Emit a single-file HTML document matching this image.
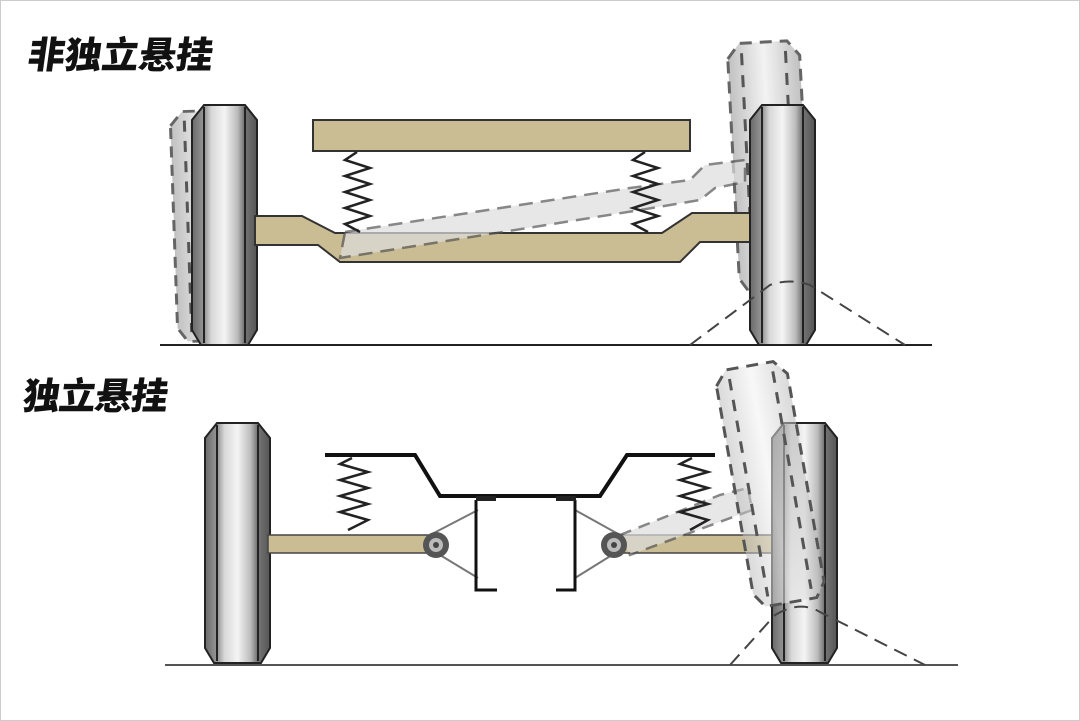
<!DOCTYPE html>
<html><head><meta charset="utf-8"><style>
html,body{margin:0;padding:0;background:#fff;}
svg{display:block;}
.t{font-family:"Liberation Sans","Noto Sans CJK SC",sans-serif;font-weight:900;font-size:37px;fill:#111;}
</style></head><body>
<svg width="1080" height="721" viewBox="0 0 1080 721" xmlns="http://www.w3.org/2000/svg">
<defs>
<linearGradient id="wg" x1="0" x2="1" y1="0" y2="0">
<stop offset="0" stop-color="#6a6a6a"/><stop offset="0.2" stop-color="#9a9a9a"/><stop offset="0.3" stop-color="#d8d8d8"/><stop offset="0.5" stop-color="#f4f4f4"/><stop offset="0.7" stop-color="#bcbcbc"/><stop offset="0.8" stop-color="#777"/><stop offset="1" stop-color="#555"/>
</linearGradient>
<linearGradient id="gg" x1="0" x2="1" y1="0" y2="0">
<stop offset="0" stop-color="#bbb"/><stop offset="0.5" stop-color="#f2f2f2"/><stop offset="1" stop-color="#bbb"/>
</linearGradient>
<g id="wheel">
<path d="M0,15 L12,0 L53,0 L65,15 L65,225 L56,240 L9,240 L0,225 Z" fill="url(#wg)" stroke="#222" stroke-width="2"/>
<line x1="12" y1="2" x2="12" y2="238" stroke="#222" stroke-width="2"/>
<line x1="53" y1="2" x2="53" y2="238" stroke="#222" stroke-width="2"/>
</g>
<g id="ghost">
<path d="M0,15 L12,0 L60,0 L72,15 L72,235 L62,250 L10,250 L0,235 Z" fill="url(#gg)" stroke="#555" stroke-width="3" stroke-dasharray="12,8" opacity="0.9"/>
<line x1="14" y1="10" x2="14" y2="240" stroke="#555" stroke-width="3" stroke-dasharray="12,10"/>
<line x1="58" y1="10" x2="58" y2="240" stroke="#555" stroke-width="3" stroke-dasharray="12,10"/>
</g>
<g id="ghostF">
<path d="M0,15 L12,0 L60,0 L72,15 L72,235 L62,250 L10,250 L0,235 Z" fill="url(#gg)" fill-opacity="0.55" stroke="#555" stroke-width="3" stroke-dasharray="12,8"/>
<line x1="14" y1="10" x2="14" y2="240" stroke="#555" stroke-width="3" stroke-dasharray="12,10"/>
<line x1="58" y1="10" x2="58" y2="240" stroke="#555" stroke-width="3" stroke-dasharray="12,10"/>
</g>
</defs>
<rect x="0" y="0" width="1080" height="721" fill="#fff"/>
<rect x="0.5" y="0.5" width="1079" height="720" fill="none" stroke="#ccc"/>

<text class="t" x="28" y="68" transform="skewX(-8) translate(8,0)">非独立悬挂</text>
<text class="t" x="24" y="409" transform="skewX(-8) translate(55,0)" textLength="145">独立悬挂</text>

<g transform="translate(170,112) rotate(-2) scale(1,0.92)"><use href="#ghost"/></g>
<g transform="translate(192,105)"><use href="#wheel"/></g>
<line x1="160" y1="345" x2="932" y2="345" stroke="#222" stroke-width="2"/>
<g transform="translate(727,44) rotate(-3)"><use href="#ghost"/></g>
<rect x="313" y="120" width="377" height="31" fill="#cbbd93" stroke="#333" stroke-width="2"/>
<path d="M255,216 L302,216 L335,233 L662,233 L692,213 L750,213 L750,242 L700,242 L680,262 L340,262 L318,245 L255,245 Z" fill="#cbbd93" stroke="#333" stroke-width="2"/>
<path d="M345,232 L630,188 L690,180 L705,165 L745,160 L745,182 L715,188 L700,200 L640,210 L340,258 Z" fill="#ddd" opacity="0.7" stroke="#555" stroke-width="2.5" stroke-dasharray="14,8"/>
<polyline points="357,152 345,160 370,168 345,176 370,184 345,192 370,200 345,208 370,216 345,224 360,232" fill="none" stroke="#222" stroke-width="2.5"/>
<polyline points="645,152 633,160 658,168 633,176 658,184 633,192 658,200 633,208 658,216 633,224 648,232" fill="none" stroke="#222" stroke-width="2.5"/>
<g transform="translate(750,105)"><use href="#wheel"/></g>
<path d="M690,345 L770,285 Q790,278 810,285 L905,345" fill="none" stroke="#444" stroke-width="2" stroke-dasharray="14,8"/>

<line x1="165" y1="665" x2="958" y2="665" stroke="#555" stroke-width="2"/>
<g transform="translate(205,423)"><use href="#wheel"/></g>
<rect x="268" y="535" width="160" height="18" fill="#cbbd93" stroke="#444" stroke-width="1.5"/>
<rect x="620" y="535" width="152" height="18" fill="#cbbd93" stroke="#444" stroke-width="1.5"/>
<path d="M430,535 L478,510 M440,555 L478,578 M620,535 L575,510 M612,555 L575,578" stroke="#777" stroke-width="2"/>
<path d="M620,535 L720,495 L748,488 L752,510 L630,555 Z" fill="#ddd" opacity="0.7" stroke="#555" stroke-width="2.5" stroke-dasharray="12,8"/>
<circle cx="436" cy="545" r="13" fill="#555"/><circle cx="436" cy="545" r="7" fill="#bbb"/><circle cx="436" cy="545" r="3" fill="#444"/>
<circle cx="614" cy="545" r="13" fill="#555"/><circle cx="614" cy="545" r="7" fill="#bbb"/><circle cx="614" cy="545" r="3" fill="#444"/>
<polyline points="325,455 415,455 440,496 600,496 627,455 715,455" fill="none" stroke="#111" stroke-width="4"/>
<polyline points="476,500 476,590 497,590" fill="none" stroke="#111" stroke-width="3"/>
<polyline points="575,500 575,590 556,590" fill="none" stroke="#111" stroke-width="3"/>
<rect x="476" y="496" width="20" height="5" fill="#222"/><rect x="556" y="496" width="20" height="5" fill="#222"/>
<polyline points="352,458 340,464 368,472 340,480 368,488 340,496 368,504 340,512 368,520 348,530" fill="none" stroke="#222" stroke-width="2.5"/>
<polyline points="692,458 680,464 708,472 680,480 708,488 680,496 708,504 680,512 708,520 690,530" fill="none" stroke="#222" stroke-width="2.5"/>
<g transform="translate(772,423)"><use href="#wheel"/></g>
<g transform="translate(714,372) rotate(-10) scale(1,0.96)"><use href="#ghostF"/></g>
<path d="M730,665 L775,615 Q800,600 820,612 L925,665" fill="none" stroke="#444" stroke-width="2" stroke-dasharray="14,8"/>
</svg>
</body></html>
